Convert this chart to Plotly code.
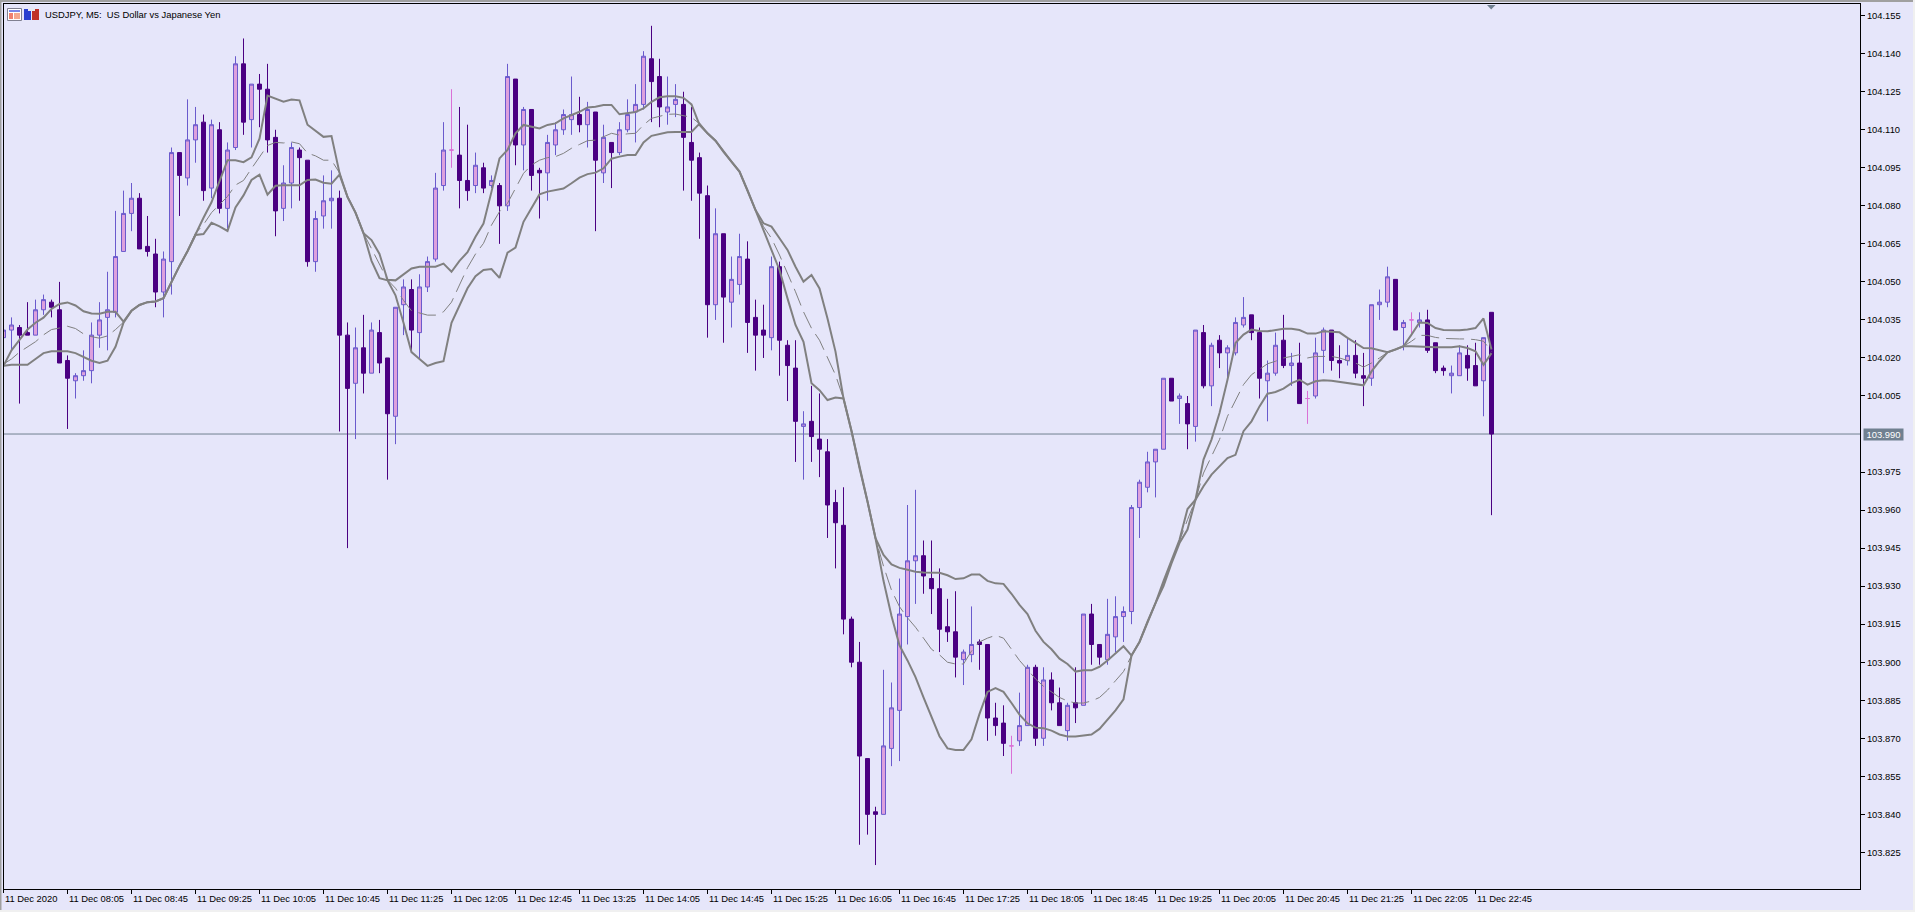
import plotly.graph_objects as go

bar_kind = list("UUDDUUDDDU" "UUUUUUUDDD" "UUDUUDUDUU" "DUDDDUUDDU" "UUDDUDUDDU" "UDUUUUNDDU"
                "DUDUDUDDUU" "UUDUDUDUUU" "UDDUUDDDDU" "DUUDDDUDDD" "UDDDDDDDDD" "UUUUUDDDDD"
                "UUDDDDNUUD" "UDDUDUDDUU" "UUUUUUDUDU" "DUDUUUDDUU" "DUDNUUDDUD" "DUUUDUNUDD" "DUUDDUD")

high = [
104.031,104.036,104.033,104.042,104.043,104.045,104.043,104.050,104.021,104.014,
104.023,104.034,104.042,104.054,104.078,104.086,104.089,104.085,104.076,104.067,
104.062,104.103,104.101,104.122,104.119,104.116,104.114,104.113,104.105,104.139,
104.146,104.128,104.132,104.136,104.110,104.096,104.105,104.103,104.098,104.078,
104.092,104.094,104.086,104.034,104.032,104.037,104.034,104.035,104.020,104.040,
104.051,104.051,104.053,104.060,104.093,104.113,104.126,104.119,104.112,104.101,
104.097,104.092,104.089,104.136,104.130,104.119,104.118,104.095,104.108,104.113,
104.118,104.131,104.123,104.121,104.117,104.112,104.105,104.113,104.122,104.128,
104.141,104.151,104.138,104.131,104.128,104.125,104.119,104.101,104.088,104.079,
104.069,104.060,104.069,104.066,104.043,104.041,104.060,104.058,104.027,104.027,
103.999,104.009,104.006,103.988,103.968,103.969,103.918,103.908,103.862,103.843,
103.897,103.892,103.933,103.962,103.968,103.948,103.948,103.937,103.925,103.928,
103.905,103.922,103.909,103.907,103.884,103.883,103.871,103.888,103.899,103.899,
103.898,103.896,103.890,103.884,103.898,103.919,103.923,103.907,103.925,103.926,
103.922,103.962,103.972,103.983,103.984,104.012,104.012,104.006,104.005,104.031,
104.033,104.026,104.029,104.025,104.036,104.044,104.037,104.032,104.019,104.030,
104.037,104.022,104.026,104.007,104.028,104.032,104.031,104.025,104.028,104.027,
104.022,104.041,104.047,104.056,104.051,104.035,104.038,104.038,104.039,104.026,
104.017,104.017,104.025,104.025,104.026,104.028,104.038]

body_top = [
104.031,104.033,104.032,104.030,104.039,104.043,104.042,104.039,104.019,104.013,
104.015,104.029,104.035,104.039,104.060,104.077,104.083,104.083,104.064,104.061,
104.059,104.101,104.101,104.106,104.112,104.113,104.112,104.110,104.102,104.136,
104.136,104.128,104.128,104.126,104.107,104.089,104.103,104.102,104.098,104.075,
104.082,104.083,104.083,104.029,104.024,104.024,104.031,104.030,104.020,104.040,
104.048,104.047,104.048,104.058,104.087,104.102,104.102,104.100,104.090,104.096,
104.095,104.090,104.088,104.131,104.130,104.118,104.118,104.094,104.105,104.110,
104.116,104.116,104.116,104.118,104.117,104.107,104.105,104.110,104.116,104.120,
104.139,104.138,104.131,104.119,104.122,104.120,104.105,104.099,104.084,104.069,
104.069,104.051,104.060,104.059,104.036,104.031,104.056,104.056,104.025,104.016,
103.994,103.995,103.988,103.983,103.963,103.954,103.917,103.900,103.862,103.841,
103.867,103.882,103.919,103.940,103.942,103.942,103.933,103.929,103.914,103.912,
103.904,103.907,103.908,103.907,103.878,103.876,103.867,103.875,103.898,103.898,
103.893,103.893,103.884,103.883,103.884,103.919,103.919,103.907,103.911,103.918,
103.920,103.961,103.971,103.979,103.984,104.012,104.012,104.005,104.002,104.031,
104.030,104.025,104.027,104.024,104.034,104.036,104.037,104.030,104.014,104.025,
104.027,104.018,104.018,104.004,104.022,104.031,104.031,104.019,104.021,104.021,
104.013,104.041,104.042,104.052,104.051,104.034,104.035,104.035,104.035,104.026,
104.016,104.014,104.022,104.021,104.017,104.028,104.038]

body_bottom = [
104.028,104.031,104.029,104.029,104.029,104.039,104.040,104.018,104.012,104.011,
104.013,104.015,104.029,104.036,104.038,104.062,104.077,104.063,104.062,104.046,
104.046,104.058,104.092,104.091,104.106,104.086,104.087,104.079,104.079,104.103,
104.113,104.114,104.126,104.106,104.078,104.079,104.089,104.099,104.058,104.058,
104.076,104.082,104.029,104.008,104.010,104.014,104.014,104.018,103.998,103.997,
104.041,104.031,104.030,104.048,104.059,104.088,104.102,104.090,104.086,104.088,
104.087,104.088,104.080,104.080,104.104,104.104,104.092,104.093,104.093,104.104,
104.110,104.114,104.112,104.112,104.098,104.093,104.101,104.101,104.110,104.117,
104.120,104.129,104.119,104.117,104.120,104.107,104.098,104.085,104.041,104.041,
104.044,104.042,104.049,104.034,104.029,104.029,104.028,104.027,104.017,103.995,
103.993,103.989,103.984,103.962,103.955,103.917,103.900,103.863,103.840,103.840,
103.840,103.866,103.881,103.918,103.940,103.934,103.929,103.913,103.912,103.902,
103.901,103.903,103.907,103.878,103.875,103.868,103.867,103.869,103.875,103.870,
103.870,103.884,103.875,103.873,103.882,103.883,103.907,103.902,103.901,103.910,
103.918,103.920,103.961,103.969,103.979,103.984,104.003,104.004,103.994,103.993,
104.009,104.009,104.022,104.022,104.022,104.033,104.030,104.012,104.011,104.014,
104.017,104.017,104.002,104.004,104.005,104.023,104.019,104.018,104.019,104.014,
104.012,104.012,104.041,104.042,104.031,104.032,104.035,104.034,104.023,104.015,
104.015,104.013,104.013,104.016,104.009,104.011,103.990]

low = [
104.028,104.023,104.002,104.029,104.029,104.037,104.036,104.018,103.992,104.004,
104.011,104.010,104.024,104.023,104.036,104.062,104.070,104.063,104.060,104.040,
104.036,104.045,104.076,104.088,104.097,104.082,104.083,104.077,104.071,104.102,
104.108,104.103,104.111,104.101,104.068,104.074,104.079,104.082,104.056,104.054,
104.071,104.071,103.991,103.945,103.988,104.006,104.014,104.014,103.972,103.986,
104.029,104.022,104.020,104.046,104.058,104.086,104.095,104.079,104.082,104.085,
104.085,104.087,104.065,104.078,104.096,104.094,104.086,104.075,104.082,104.100,
104.108,104.108,104.109,104.103,104.070,104.089,104.087,104.100,104.109,104.105,
104.118,104.113,104.111,104.112,104.115,104.086,104.082,104.067,104.028,104.035,
104.026,104.032,104.045,104.022,104.015,104.020,104.023,104.013,104.003,103.979,
103.972,103.979,103.973,103.949,103.937,103.911,103.898,103.828,103.832,103.820,
103.840,103.859,103.861,103.907,103.923,103.927,103.919,103.904,103.908,103.894,
103.891,103.900,103.897,103.869,103.871,103.863,103.856,103.867,103.875,103.867,
103.867,103.881,103.875,103.869,103.876,103.883,103.899,103.899,103.899,103.904,
103.908,103.915,103.949,103.967,103.965,103.984,104.003,103.994,103.984,103.987,
104.008,104.001,104.016,104.012,104.021,104.032,104.027,104.004,103.995,104.013,
104.016,104.009,104.002,103.994,104.004,104.014,104.015,104.012,104.017,104.012,
104.001,104.009,104.035,104.040,104.031,104.023,104.029,104.032,104.022,104.014,
104.013,104.006,104.013,104.011,104.009,103.997,103.958]

band_upper = [
104.0169,104.023,104.0271,104.0312,104.0339,104.0359,104.0393,104.0413,104.0419,104.0407,
104.0384,104.0375,104.0374,104.0382,104.0382,104.0343,104.0386,104.0409,104.042,104.0423,
104.0436,104.0502,104.0563,104.0621,104.0689,104.0753,104.0814,104.0896,104.098,104.098,
104.0972,104.0991,104.1065,104.1235,104.1222,104.1211,104.1219,104.1216,104.112,104.1097,
104.1072,104.1075,104.093,104.0835,104.0773,104.0692,104.0665,104.061,104.0508,104.0506,
104.0529,104.0553,104.056,104.056,104.056,104.0572,104.054,104.0583,104.0617,104.0678,
104.073,104.0856,104.0987,104.102,104.1086,104.1119,104.1112,104.1105,104.1119,104.1125,
104.1145,104.1158,104.1171,104.1188,104.1191,104.1198,104.1198,104.1161,104.1167,104.117,
104.1184,104.121,104.1228,104.1232,104.1232,104.1226,104.120,104.1119,104.1086,104.1057,
104.1013,104.0974,104.0935,104.0862,104.0783,104.0731,104.0718,104.0672,104.0626,104.056,
104.0501,104.0527,104.0474,104.0356,104.0225,104.004,103.9912,103.9766,103.9634,103.9489,
103.9423,103.9386,103.9372,103.9365,103.9357,103.9354,103.9353,103.9353,103.9343,103.9328,
103.9331,103.9346,103.9346,103.9321,103.9311,103.9309,103.927,103.9226,103.919,103.9124,
103.908,103.9051,103.9014,103.8993,103.8963,103.8968,103.8968,103.8982,103.9007,103.9036,
103.9063,103.9026,103.908,103.916,103.9233,103.932,103.940,103.9483,103.9604,103.9641,
103.9799,103.9878,103.9983,104.0114,104.0259,104.0292,104.0312,104.0306,104.0305,104.031,
104.0315,104.0315,104.031,104.0296,104.0296,104.0305,104.0302,104.0301,104.0279,104.0259,
104.0239,104.0238,104.0229,104.0223,104.0233,104.0246,104.0292,104.034,104.0338,104.0318,
104.031,104.0308,104.0309,104.0312,104.0318,104.0356,104.0233]

band_lower = [
104.0169,104.0173,104.0173,104.0173,104.0196,104.0219,104.0226,104.0226,104.0226,104.0219,
104.0203,104.0189,104.018,104.0189,104.0244,104.0339,104.0386,104.0409,104.042,104.0423,
104.0436,104.0502,104.0563,104.0621,104.0685,104.0689,104.0733,104.0719,104.0701,104.0794,
104.0841,104.0902,104.0923,104.0844,104.0879,104.0881,104.0881,104.0881,104.0902,104.0904,
104.0891,104.0887,104.0923,104.0835,104.0773,104.0692,104.0583,104.0515,104.0506,104.0447,
104.0339,104.0223,104.0196,104.0169,104.018,104.0187,104.0339,104.0407,104.0475,104.0522,
104.0547,104.0551,104.0516,104.0615,104.0635,104.0737,104.079,104.0845,104.0856,104.0861,
104.0868,104.0889,104.0911,104.0925,104.0931,104.0948,104.0986,104.0994,104.100,104.100,
104.105,104.1076,104.1083,104.109,104.1091,104.1091,104.1091,104.1124,104.1086,104.1057,
104.1013,104.0974,104.0935,104.0862,104.0783,104.0704,104.0626,104.0547,104.0435,104.033,
104.0264,104.010,104.0073,104.0034,104.0044,104.004,103.9912,103.9766,103.9634,103.9489,
103.9321,103.9182,103.9066,103.9007,103.8941,103.8861,103.8781,103.8708,103.866,103.8654,
103.8654,103.8696,103.8796,103.8883,103.8898,103.8883,103.8839,103.8793,103.8759,103.8742,
103.874,103.873,103.8715,103.8707,103.8707,103.8712,103.8715,103.8737,103.8774,103.881,
103.8854,103.9026,103.908,103.916,103.9233,103.930,103.939,103.947,103.9523,103.9641,
103.9694,103.974,103.9772,103.9805,103.9818,103.9911,103.995,104.0009,104.0059,104.0066,
104.0079,104.0101,104.0114,104.0095,104.0108,104.0112,104.011,104.0105,104.0101,104.0097,
104.0092,104.0147,104.0187,104.0222,104.0233,104.0246,104.0246,104.0244,104.0243,104.0242,
104.0242,104.0242,104.0246,104.0239,104.0226,104.0173,104.0219]

band_mid = [
104.0176,104.0196,104.0223,104.0244,104.0264,104.0291,104.0312,104.0318,104.0325,104.0316,
104.0295,104.0284,104.0278,104.0287,104.0312,104.0341,104.0386,104.0409,104.042,104.0423,
104.0436,104.0502,104.0563,104.0621,104.0692,104.0726,104.0773,104.0805,104.0837,104.0882,
104.090,104.0947,104.0991,104.1038,104.105,104.1048,104.1052,104.1045,104.1008,104.0997,
104.098,104.098,104.093,104.0835,104.0773,104.0692,104.0631,104.057,104.0508,104.0475,
104.0427,104.0386,104.0377,104.0369,104.0369,104.0382,104.042,104.0488,104.0556,104.061,
104.0652,104.0724,104.0777,104.081,104.0869,104.0928,104.0961,104.098,104.099,104.0994,
104.1007,104.1027,104.1042,104.1057,104.1059,104.1073,104.1086,104.1079,104.1084,104.1086,
104.1119,104.1145,104.1154,104.1161,104.1162,104.1154,104.1149,104.1124,104.1086,104.1057,
104.1013,104.0974,104.0935,104.0862,104.0783,104.0718,104.0672,104.0606,104.0534,104.0461,
104.0382,104.0317,104.027,104.0198,104.0133,104.004,103.9912,103.9766,103.9634,103.9489,
103.9379,103.9284,103.9219,103.9175,103.9138,103.9095,103.9051,103.9029,103.900,103.8993,
103.8993,103.9044,103.908,103.9095,103.9106,103.9095,103.9051,103.9007,103.8971,103.8934,
103.8905,103.8883,103.8861,103.8847,103.8839,103.8839,103.8847,103.8861,103.889,103.8927,
103.8963,103.9026,103.908,103.916,103.9233,103.931,103.9395,103.948,103.9562,103.9641,
103.9746,103.9812,103.9878,103.997,104.0035,104.0095,104.0134,104.0154,104.0177,104.0187,
104.020,104.0206,104.0213,104.020,104.0206,104.0206,104.0206,104.020,104.0191,104.018,
104.0164,104.018,104.020,104.0222,104.0233,104.0246,104.0266,104.0289,104.0289,104.0281,
104.0277,104.0275,104.0275,104.0275,104.0272,104.0266,104.0226]

n_bars = len(high)
for series in (bar_kind, body_top, body_bottom, low, band_upper, band_lower, band_mid):
    assert len(series) == n_bars, len(series)

bar_index = list(range(n_bars))
open_price = [b if k == "U" else t for k, t, b in zip(bar_kind, body_top, body_bottom)]
close_price = [t if k == "U" else b for k, t, b in zip(bar_kind, body_top, body_bottom)]

time_labels = ["11 Dec 2020", "11 Dec 08:05", "11 Dec 08:45", "11 Dec 09:25", "11 Dec 10:05", "11 Dec 10:45",
               "11 Dec 11:25", "11 Dec 12:05", "11 Dec 12:45", "11 Dec 13:25", "11 Dec 14:05", "11 Dec 14:45",
               "11 Dec 15:25", "11 Dec 16:05", "11 Dec 16:45", "11 Dec 17:25", "11 Dec 18:05", "11 Dec 18:45",
               "11 Dec 19:25", "11 Dec 20:05", "11 Dec 20:45", "11 Dec 21:25", "11 Dec 22:05", "11 Dec 22:45"]
time_ticks = [8 * i for i in range(len(time_labels))]
price_labels = ["104.155", "104.140", "104.125", "104.110", "104.095", "104.080", "104.065", "104.050",
                "104.035", "104.020", "104.005", "103.975", "103.960", "103.945", "103.930", "103.915",
                "103.900", "103.885", "103.870", "103.855", "103.840", "103.825"]
last_price = 103.990
title_text = "USDJPY, M5:  US Dollar vs Japanese Yen"

W, H = 1915, 912
L, R, T, B = 4, 1860, 4, 889   # plot box in page pixels
FONT = "Liberation Sans"
FS = 9.4
LAV = "#E6E6FA"
def px(x): return (x - L) / (R - L)
def py(y): return 1 - (y - T) / (B - T)

fig = go.Figure()
idx = [i for i, k in enumerate(bar_kind) if k != "N"]
fig.add_trace(go.Candlestick(
    x=[bar_index[i] for i in idx], open=[open_price[i] for i in idx], high=[high[i] for i in idx],
    low=[low[i] for i in idx], close=[close_price[i] for i in idx], whiskerwidth=0, showlegend=False,
    increasing=dict(fillcolor="#DDA0DD", line=dict(color="#6A5ACD", width=1)),
    decreasing=dict(fillcolor="#4B0082", line=dict(color="#4B0082", width=1)), hoverinfo="skip"))
idn = [i for i, k in enumerate(bar_kind) if k == "N"]
fig.add_trace(go.Candlestick(
    x=[bar_index[i] for i in idn], open=[open_price[i] for i in idn], high=[high[i] for i in idn],
    low=[low[i] for i in idn], close=[close_price[i] for i in idn], whiskerwidth=0, showlegend=False,
    increasing=dict(fillcolor="#DA70D6", line=dict(color="#DA70D6", width=1)),
    decreasing=dict(fillcolor="#DA70D6", line=dict(color="#DA70D6", width=1)), hoverinfo="skip"))
for name, vals, width, dash in (("Upper", band_upper, 2, "solid"), ("Lower", band_lower, 2, "solid"),
                                ("Middle", band_mid, 1, "18px,7px")):
    fig.add_trace(go.Scatter(x=bar_index, y=vals, mode="lines", name=name, showlegend=False, hoverinfo="skip",
                             line=dict(color="#808080", width=width, dash=dash)))

price_vals = [float(p) for p in price_labels]
shapes = [
    dict(type="line", xref="paper", yref="y", x0=0, x1=1, y0=last_price, y1=last_price,
         line=dict(color="#708090", width=1), layer="below"),
    # window chrome
    dict(type="rect", xref="paper", yref="paper", x0=px(0), x1=px(W), y0=py(0), y1=py(2),
         fillcolor="#A0A0A0", line_width=0),
    dict(type="rect", xref="paper", yref="paper", x0=px(0), x1=px(1.5), y0=py(0), y1=py(H),
         fillcolor="#A0A0A0", line_width=0),
    dict(type="rect", xref="paper", yref="paper", x0=px(W - 2), x1=px(W), y0=py(0), y1=py(H),
         fillcolor="#F0F0F0", line_width=0),
    dict(type="rect", xref="paper", yref="paper", x0=px(0), x1=px(W), y0=py(H - 2), y1=py(H),
         fillcolor="#F0F0F0", line_width=0),
    # first time tick sits on the box edge
    dict(type="line", xref="paper", yref="paper", x0=px(3.5), x1=px(3.5), y0=py(889), y1=py(893),
         line=dict(color="black", width=1)),
    # indicator icons
    dict(type="rect", xref="paper", yref="paper", x0=px(7.5), x1=px(21.5), y0=py(8.5), y1=py(20.5),
         fillcolor="#FFFFFF", line=dict(color="#808090", width=1)),
    dict(type="rect", xref="paper", yref="paper", x0=px(9), x1=px(20), y0=py(10), y1=py(12),
         fillcolor="#7A86E8", line_width=0),
    dict(type="rect", xref="paper", yref="paper", x0=px(9), x1=px(13), y0=py(13), y1=py(19),
         fillcolor="#F08070", line_width=0),
    dict(type="rect", xref="paper", yref="paper", x0=px(14), x1=px(20), y0=py(13), y1=py(19),
         fillcolor="#F4A890", line_width=0),
    dict(type="rect", xref="paper", yref="paper", x0=px(24), x1=px(31), y0=py(9), y1=py(20),
         fillcolor="#2A40D0", line_width=0),
    dict(type="rect", xref="paper", yref="paper", x0=px(32), x1=px(39), y0=py(9), y1=py(20),
         fillcolor="#C03028", line_width=0),
    dict(type="rect", xref="paper", yref="paper", x0=px(28), x1=px(35), y0=py(8), y1=py(11),
         fillcolor="#E8E8F0", line_width=0),
    # shift marker
    dict(type="path", xref="paper", yref="paper", line_width=0, fillcolor="#708090",
         path=f"M {px(1487)} {py(5)} L {px(1495.5)} {py(5)} L {px(1491.2)} {py(9.5)} Z"),
]

annots = [dict(xref="paper", yref="paper", x=px(44), y=py(14.5), text=title_text, showarrow=False,
               xanchor="left", yanchor="middle", borderpad=0, font=dict(family=FONT, size=FS, color="black")),
          dict(xref="paper", yref="y", x=px(1863), y=last_price, text=f"{last_price:.3f}", showarrow=False,
               xanchor="left", yanchor="middle", borderpad=0, width=39, height=11, align="center", bgcolor="#708090",
               font=dict(family=FONT, size=FS, color="white"))]
for t, s in zip(time_ticks, time_labels):
    # the first label's tick lies just left of the axis range, so it is placed on the paper axis
    pos = dict(xref="paper", x=px(3.5)) if t == 0 else dict(xref="x", x=t)
    annots.append(dict(yref="paper", y=py(899), text=s, showarrow=False, xanchor="left",
                       yanchor="middle", borderpad=0, font=dict(family=FONT, size=FS, color="black"), **pos))

x_left = 0.0625
y_top = 104.1596
fig.update_layout(
    width=W, height=H, autosize=False, margin=dict(l=L, r=W - R, t=T, b=H - B, pad=0),
    paper_bgcolor=LAV, plot_bgcolor=LAV, showlegend=False, boxgap=0.5, boxgroupgap=0, boxmode="overlay",
    shapes=shapes, annotations=annots, hovermode=False,
    font=dict(family=FONT, size=FS, color="black"),
    xaxis=dict(range=[x_left, x_left + (R - L) / 8], rangeslider=dict(visible=False), showgrid=False, zeroline=False,
               showline=True, mirror=True, linecolor="black", linewidth=1, ticks="outside", ticklen=4,
               tickcolor="black", tickwidth=1, tickvals=time_ticks, showticklabels=False),
    yaxis=dict(range=[y_top - (B - T) / 2535.5, y_top], side="right", showgrid=False, zeroline=False, showline=True,
               mirror=True, linecolor="black", linewidth=1, ticks="outside", ticklen=4, tickcolor="black",
               tickwidth=1, tickvals=price_vals, ticktext=price_labels,
               tickfont=dict(family=FONT, size=FS, color="black")),
)
fig.write_html("out.html", config=dict(displayModeBar=False, staticPlot=True),
               post_script="document.body.style.margin='0';document.body.style.overflow='hidden';")
